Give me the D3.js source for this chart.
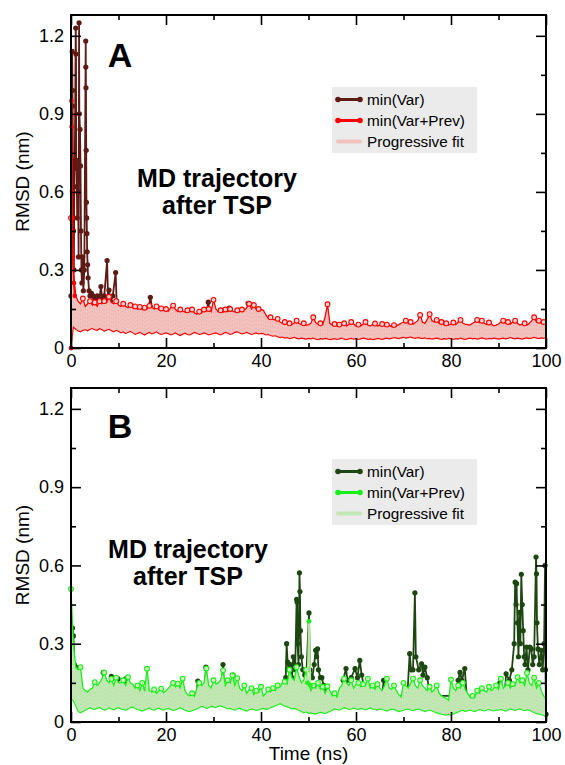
<!DOCTYPE html>
<html><head><meta charset="utf-8">
<script src="https://cdn.jsdelivr.net/npm/d3@7"></script>
<style>body{margin:0;background:#fff;} svg{display:block;font-family:"Liberation Sans",Arial,Helvetica,sans-serif;}</style>
</head><body><svg id="c" width="565" height="765"></svg>
<script>
// ---------- data ----------
const xTicks = [0, 20, 40, 60, 80, 100];
const xMinor = [10, 30, 50, 70, 90];
const yTicks = [0, 0.3, 0.6, 0.9, 1.2];
const yMinor = [0.15, 0.45, 0.75, 1.05];
const legendLabels = ["min(Var)", "min(Var+Prev)", "Progressive fit"];
const panelLetters = ["A", "B"];
const noteLines = ["MD trajectory", "after TSP"];
const timeStep = 0.5; // ns between samples of the envelope arrays (t = 0 .. 100)

// Panel A: upper / lower edge of the min(Var+Prev) + progressive-fit band
const topA = [
 0.5,0.3,0.2,0.18,0.17,0.19,0.16,0.17,0.18,0.165,0.175,0.16,0.18,0.17,0.18,0.175,0.197,0.175,0.17,0.18,0.165,
 0.16,0.17,0.16,0.155,0.165,0.155,0.16,0.15,0.158,0.148,0.155,0.15,0.162,0.158,0.15,0.16,0.148,0.152,0.145,0.15,
 0.142,0.155,0.163,0.148,0.14,0.148,0.142,0.138,0.145,0.14,0.148,0.135,0.13,0.14,0.135,0.148,0.142,0.15,0.14,0.185,
 0.15,0.14,0.145,0.138,0.148,0.14,0.15,0.142,0.138,0.145,0.14,0.148,0.145,0.155,0.17,0.15,0.165,0.148,0.15,0.148,
 0.145,0.128,0.115,0.118,0.11,0.108,0.112,0.1,0.095,0.1,0.092,0.095,0.09,0.097,0.105,0.094,0.09,0.095,0.088,0.09,
 0.095,0.118,0.098,0.092,0.095,0.09,0.12,0.168,0.095,0.088,0.092,0.085,0.09,0.088,0.095,0.085,0.09,0.1,0.092,0.085,
 0.09,0.085,0.092,0.1,0.088,0.085,0.09,0.094,0.085,0.088,0.092,0.085,0.09,0.088,0.082,0.088,0.085,0.09,0.095,0.1,
 0.105,0.095,0.1,0.092,0.098,0.105,0.127,0.1,0.095,0.11,0.13,0.105,0.1,0.108,0.095,0.1,0.09,0.095,0.088,0.092,
 0.098,0.09,0.1,0.108,0.095,0.092,0.09,0.088,0.095,0.1,0.108,0.098,0.105,0.095,0.09,0.098,0.092,0.085,0.088,0.092,
 0.1,0.105,0.095,0.1,0.092,0.1,0.105,0.095,0.088,0.092,0.095,0.088,0.095,0.105,0.118,0.1,0.105,0.095,0.1,0.092
];
const lowA = [
 0.0,0.08,0.072,0.065,0.062,0.068,0.07,0.066,0.072,0.075,0.07,0.068,0.074,0.07,0.065,0.068,0.072,0.066,0.062,0.068,0.064,
 0.058,0.062,0.055,0.06,0.064,0.058,0.052,0.056,0.06,0.055,0.05,0.056,0.06,0.054,0.058,0.062,0.056,0.052,0.055,0.058,
 0.055,0.05,0.054,0.058,0.052,0.048,0.053,0.057,0.052,0.05,0.055,0.06,0.056,0.052,0.054,0.058,0.055,0.05,0.053,0.056,
 0.058,0.054,0.05,0.055,0.06,0.057,0.052,0.055,0.06,0.062,0.058,0.054,0.057,0.06,0.056,0.052,0.055,0.058,0.054,0.056,
 0.055,0.05,0.052,0.048,0.045,0.047,0.043,0.04,0.042,0.038,0.04,0.036,0.038,0.041,0.037,0.035,0.038,0.036,0.034,0.037,
 0.035,0.038,0.034,0.032,0.036,0.034,0.037,0.035,0.032,0.034,0.036,0.033,0.035,0.038,0.034,0.032,0.035,0.037,0.034,0.036,
 0.033,0.035,0.038,0.036,0.033,0.035,0.032,0.034,0.037,0.035,0.033,0.036,0.038,0.035,0.037,0.04,0.038,0.036,0.039,0.041,
 0.038,0.04,0.042,0.039,0.037,0.04,0.038,0.036,0.039,0.035,0.037,0.034,0.036,0.038,0.035,0.033,0.036,0.034,0.037,0.035,
 0.033,0.036,0.034,0.038,0.035,0.033,0.036,0.038,0.035,0.037,0.034,0.036,0.039,0.036,0.034,0.037,0.035,0.038,0.036,0.034,
 0.036,0.038,0.035,0.037,0.04,0.037,0.035,0.038,0.036,0.034,0.037,0.039,0.036,0.038,0.041,0.038,0.036,0.039,0.037,0.04
];
// Panel A: early min(Var+Prev) excursion [time ns, RMSD nm]
const redEarlyA = [[0,0],[0.1,0.95],[0.15,0.85],[0.2,0.6],[0.3,0.5],[0.4,0.35],[0.6,0.25],[0.8,0.2]];
// Panel A: min(Var) [time ns, RMSD nm]
const brownA = [
 [0,0.2],[0.25,1.14],[0.3,0.99],[0.35,0.93],[0.4,0.7],[0.5,0.45],[0.6,0.3],[0.7,0.62],[0.8,0.72],[1.0,1.23],
 [1.05,1.13],[1.1,0.72],[1.2,0.69],[1.3,0.5],[1.4,0.72],[1.5,0.6],[1.6,0.35],[1.65,0.7],[1.7,1.25],[1.75,0.9],
 [1.9,0.84],[2.0,0.7],[2.1,0.45],[2.2,0.3],[2.3,0.25],[2.45,0.35],[2.6,0.22],[2.8,0.3],[3.1,1.18],[3.12,1.08],
 [3.15,1.0],[3.2,0.76],[3.25,0.56],[3.3,0.5],[3.35,0.44],[3.4,0.37],[3.5,0.32],[3.6,0.27],[3.8,0.22],[4.0,0.2],
 [4.3,0.21],[4.6,0.2],[5.0,0.19],[5.5,0.2],[6.0,0.19],[6.3,0.236],[6.6,0.18],[7.0,0.2],[7.6,0.336],[7.8,0.19],
 [8.0,0.223],[8.3,0.18],[8.8,0.2],[9.4,0.29],[9.6,0.18],[10,0.15],[12,0.14],[14,0.14],[16.2,0.14],[16.7,0.195],
 [17.2,0.14],[20,0.13],[24,0.13],[28.5,0.13],[28.9,0.176],[29.3,0.13],[33,0.13],[33.3,0.153],[33.6,0.13],[37,0.14],
 [37.3,0.172],[37.6,0.14],[40,0.13],[42,0.1]
];

// Panel B
const topB = [
 0.51,0.3,0.21,0.2,0.21,0.13,0.12,0.115,0.125,0.13,0.153,0.14,0.15,0.165,0.19,0.16,0.15,0.165,0.14,0.17,0.15,
 0.15,0.16,0.14,0.172,0.15,0.145,0.13,0.14,0.12,0.15,0.118,0.204,0.12,0.115,0.125,0.11,0.12,0.128,0.112,0.12,
 0.13,0.14,0.15,0.135,0.147,0.13,0.166,0.12,0.105,0.1,0.11,0.098,0.13,0.15,0.14,0.15,0.205,0.14,0.13,0.16,
 0.145,0.15,0.16,0.198,0.14,0.16,0.15,0.179,0.14,0.168,0.13,0.12,0.14,0.11,0.125,0.13,0.105,0.12,0.115,0.135,
 0.1,0.11,0.125,0.115,0.13,0.12,0.14,0.135,0.15,0.155,0.145,0.2,0.17,0.16,0.21,0.175,0.15,0.16,0.2,0.15,
 0.12,0.14,0.13,0.15,0.125,0.135,0.11,0.137,0.12,0.1,0.11,0.095,0.13,0.14,0.166,0.15,0.14,0.16,0.13,0.145,
 0.15,0.135,0.145,0.14,0.166,0.13,0.14,0.125,0.145,0.13,0.12,0.14,0.166,0.13,0.125,0.14,0.12,0.105,0.096,0.15,
 0.14,0.13,0.15,0.166,0.14,0.13,0.16,0.14,0.13,0.12,0.135,0.115,0.125,0.14,0.11,0.1,0.095,0.09,0.083,0.162,
 0.13,0.12,0.14,0.13,0.15,0.125,0.11,0.096,0.1,0.095,0.12,0.11,0.13,0.12,0.115,0.135,0.12,0.13,0.14,0.125,
 0.166,0.13,0.14,0.15,0.13,0.145,0.14,0.172,0.15,0.16,0.14,0.188,0.15,0.14,0.17,0.13,0.15,0.12,0.1,0.09
];
const lowB = [
 0.09,0.08,0.06,0.04,0.035,0.04,0.045,0.05,0.055,0.05,0.048,0.052,0.056,0.05,0.045,0.048,0.055,0.05,0.046,0.052,0.055,
 0.05,0.048,0.045,0.05,0.055,0.058,0.052,0.048,0.045,0.042,0.046,0.05,0.054,0.048,0.045,0.05,0.053,0.048,0.045,0.05,
 0.052,0.048,0.044,0.046,0.05,0.055,0.05,0.045,0.042,0.04,0.043,0.047,0.05,0.055,0.06,0.057,0.052,0.055,0.06,0.058,
 0.055,0.06,0.062,0.058,0.055,0.05,0.052,0.048,0.045,0.05,0.053,0.048,0.045,0.042,0.046,0.05,0.048,0.044,0.047,0.05,
 0.052,0.048,0.05,0.055,0.058,0.062,0.065,0.07,0.066,0.06,0.058,0.055,0.05,0.052,0.048,0.045,0.04,0.035,0.038,0.033,
 0.035,0.032,0.03,0.034,0.037,0.035,0.032,0.036,0.04,0.045,0.05,0.048,0.045,0.05,0.055,0.052,0.048,0.05,0.053,0.05,
 0.048,0.052,0.05,0.046,0.05,0.054,0.05,0.048,0.045,0.05,0.048,0.045,0.042,0.046,0.05,0.048,0.044,0.04,0.042,0.045,
 0.048,0.05,0.046,0.043,0.047,0.05,0.048,0.044,0.04,0.043,0.046,0.042,0.038,0.035,0.032,0.03,0.028,0.026,0.03,0.025,
 0.03,0.035,0.038,0.042,0.045,0.04,0.043,0.046,0.042,0.04,0.044,0.048,0.045,0.042,0.045,0.048,0.044,0.042,0.046,0.045,
 0.048,0.045,0.042,0.046,0.05,0.047,0.044,0.048,0.05,0.046,0.043,0.047,0.045,0.04,0.036,0.032,0.03,0.028,0.025,0.02
];
// Panel B: min(Var) [time ns, RMSD nm]
const darkB = [
 [0.3,0.36],[0.5,0.33],[0.7,0.22],[1.0,0.21],[1.5,0.12],
 [6.5,0.1],[6.8,0.19],[7.1,0.1],[8.2,0.1],[8.5,0.175],[8.8,0.1],[9.6,0.1],[9.9,0.165],[10.2,0.1],
 [11.2,0.1],[11.5,0.165],[11.8,0.1],[26.4,0.1],[26.7,0.157],[27,0.1],[28.1,0.1],[28.4,0.21],[28.7,0.1],
 [31.7,0.1],[32,0.22],[32.3,0.1],[33.8,0.1],[34.1,0.18],[34.4,0.1],
 [44.5,0.1],[45.2,0.17],[45.4,0.3],[45.6,0.23],[45.8,0.2],[46.2,0.22],[46.5,0.17],[46.8,0.25],[47.2,0.2],[47.5,0.47],
 [47.6,0.46],[47.7,0.3],[47.9,0.22],[48.1,0.572],[48.2,0.5],[48.3,0.35],[48.5,0.25],[48.8,0.2],[49.2,0.18],[49.6,0.2],
 [50.1,0.418],[50.3,0.2],[50.8,0.17],[51.2,0.22],[51.5,0.275],[51.7,0.25],[51.9,0.28],[52.1,0.2],[52.5,0.17],[52.8,0.17],
 [53.2,0.14],[54,0.1],
 [57.0,0.1],[57.3,0.16],[57.9,0.205],[58.2,0.16],[59,0.17],[59.8,0.205],[60.3,0.17],[60.8,0.236],[61.2,0.18],[62,0.1],
 [65.5,0.1],[65.8,0.16],[66.1,0.1],
 [70.8,0.1],[71.3,0.262],[71.6,0.2],[72,0.2],[72.4,0.495],[72.6,0.25],[73.2,0.2],[73.8,0.223],[74.1,0.18],[74.5,0.21],
 [75,0.17],[75.6,0.1],
 [81.2,0.1],[81.5,0.16],[81.9,0.19],[82.3,0.16],[82.9,0.205],[83.3,0.1],[89.8,0.1],[90.3,0.15],[90.8,0.1],
 [91.3,0.1],[91.6,0.185],[92.3,0.16],[92.8,0.2],[93.3,0.3],[93.5,0.536],
 [93.7,0.45],[93.8,0.53],[94.0,0.38],[94.2,0.25],[94.4,0.42],[94.6,0.3],[94.8,0.566],[95.0,0.45],[95.2,0.35],[95.4,0.25],
 [95.6,0.22],[95.9,0.287],[96.2,0.2],[96.6,0.287],[96.9,0.28],[97.2,0.22],[97.5,0.25],[97.9,0.632],[98.0,0.568],[98.1,0.38],
 [98.3,0.28],[98.6,0.22],[99.0,0.275],[99.3,0.2],[99.6,0.3],[99.8,0.6],[99.9,0.2],[100,0.03]
];
// Panel B: isolated min(Var+Prev) excursion [time ns, RMSD nm]
const greenSpikeB = [[49.8,0.15],[50.1,0.386],[50.4,0.14]];

// ---------- drawing ----------
const svg = d3.select("#c");
const X0 = 71, X1 = 546;
const x = d3.scaleLinear().domain([0, 100]).range([X0, X1]);

const panels = [
  {top: topA, low: lowA, dark: brownA, extra: redEarlyA, letter: panelLetters[0],
   y0: 348, y1: 15, noteX: 217, noteY: 187, letterY: 67, legY: 87,
   cDark: "#5e1a14", cMid: "#ff0000", cFit: "#f2c3be", cDot: "#f7d2ce", extraLine: "#ff0000"},
  {top: topB, low: lowB, dark: darkB, extra: greenSpikeB, letter: panelLetters[1],
   y0: 722, y1: 388, noteX: 188, noteY: 558, letterY: 438, legY: 459,
   cDark: "#1d4710", cMid: "#18f018", cFit: "#c3e6b4", cDot: "#c8f0b8", extraLine: "#b6e8a2"}
];

panels.forEach(p => {
  const y = d3.scaleLinear().domain([0, 1.28]).range([p.y0, p.y1]);
  const g = svg.append("g");
  const tx = (d, i) => x(i * timeStep);

  // min(Var) (underneath)
  g.append("path").datum(p.dark)
    .attr("d", d3.line().x(d => x(d[0])).y(d => y(d[1])))
    .attr("fill", "none").attr("stroke", p.cDark).attr("stroke-width", 1.8);
  g.selectAll(null).data(p.dark).enter().append("circle")
    .attr("cx", d => x(d[0])).attr("cy", d => y(d[1])).attr("r", 2.6)
    .attr("fill", p.cDark);

  // progressive fit band
  g.append("path").datum(p.top)
    .attr("d", d3.area().x(tx).y0((d, i) => y(p.low[i])).y1(d => y(d)))
    .attr("fill", p.cFit);
  g.selectAll(null).data(p.top).enter().append("line")
    .attr("x1", tx).attr("x2", tx)
    .attr("y1", (d, i) => y(p.low[i])).attr("y2", d => y(d))
    .attr("stroke", p.cMid).attr("stroke-opacity", 0.14).attr("stroke-width", 0.8)
    .attr("stroke-dasharray", "1.5,2.5");

  // min(Var+Prev) edges
  g.append("path").datum(p.low)
    .attr("d", d3.line().x(tx).y(d => y(d)))
    .attr("fill", "none").attr("stroke", p.cMid).attr("stroke-width", 1.1);
  g.append("path").datum(p.top)
    .attr("d", d3.line().x(tx).y(d => y(d)))
    .attr("fill", "none").attr("stroke", p.cMid).attr("stroke-width", 1.3);
  const peaks = p.top.map((v, i) => [i, v]).filter(([i, v]) =>
    (i === 0 || v > p.top[i - 1]) && (i === p.top.length - 1 || v >= p.top[i + 1]));
  g.selectAll(null).data(peaks).enter().append("circle")
    .attr("cx", d => x(d[0] * timeStep)).attr("cy", d => y(d[1])).attr("r", 2.4)
    .attr("fill", p.cDot).attr("stroke", p.cMid).attr("stroke-width", 1.1);

  // extra excursion of min(Var+Prev)
  g.append("path").datum(p.extra)
    .attr("d", d3.line().x(d => x(d[0])).y(d => y(d[1])))
    .attr("fill", "none").attr("stroke", p.extraLine).attr("stroke-width", 1.8);
  g.selectAll(null).data(p.extra).enter().append("circle")
    .attr("cx", d => x(d[0])).attr("cy", d => y(d[1])).attr("r", 2.4)
    .attr("fill", p.cMid);

  // axes (ticks inward on all four sides)
  const fmtY = v => v === 0 ? "0" : d3.format(".1f")(v);
  const axG = svg.append("g");
  const styleAxis = sel => { sel.select(".domain").remove(); sel.selectAll("line").attr("stroke", "#000").attr("stroke-width", 1.6); sel.selectAll("text").attr("font-size", 18).attr("fill", "#000").attr("font-family", "Liberation Sans, Arial, sans-serif"); };
  axG.append("g").attr("transform", `translate(0,${p.y0})`)
    .call(d3.axisBottom(x).tickValues(xTicks).tickSize(-10).tickPadding(6).tickFormat(d3.format("d"))).call(styleAxis);
  axG.append("g").attr("transform", `translate(0,${p.y0})`)
    .call(d3.axisBottom(x).tickValues(xMinor).tickSize(-5).tickFormat("")).call(styleAxis);
  axG.append("g").attr("transform", `translate(0,${p.y1})`)
    .call(d3.axisTop(x).tickValues(xTicks).tickSize(-10).tickFormat("")).call(styleAxis);
  axG.append("g").attr("transform", `translate(0,${p.y1})`)
    .call(d3.axisTop(x).tickValues(xMinor).tickSize(-5).tickFormat("")).call(styleAxis);
  axG.append("g").attr("transform", `translate(${X0},0)`)
    .call(d3.axisLeft(y).tickValues(yTicks).tickSize(-10).tickPadding(7).tickFormat(fmtY)).call(styleAxis);
  axG.append("g").attr("transform", `translate(${X0},0)`)
    .call(d3.axisLeft(y).tickValues(yMinor).tickSize(-5).tickFormat("")).call(styleAxis);
  axG.append("g").attr("transform", `translate(${X1},0)`)
    .call(d3.axisRight(y).tickValues(yTicks).tickSize(-10).tickFormat("")).call(styleAxis);
  axG.append("g").attr("transform", `translate(${X1},0)`)
    .call(d3.axisRight(y).tickValues(yMinor).tickSize(-5).tickFormat("")).call(styleAxis);
  svg.append("rect").attr("x", X0).attr("y", p.y1).attr("width", X1 - X0).attr("height", p.y0 - p.y1)
    .attr("fill", "none").attr("stroke", "#000").attr("stroke-width", 2);

  // y label
  svg.append("text").attr("transform", `translate(29,${(p.y0 + p.y1) / 2}) rotate(-90)`)
    .attr("text-anchor", "middle").attr("font-size", 19).text("RMSD (nm)");

  // panel letter and note
  svg.append("text").attr("x", 120).attr("y", p.letterY).attr("text-anchor", "middle")
    .attr("font-size", 34).attr("font-weight", "bold").text(p.letter);
  noteLines.forEach((t, i) => svg.append("text").attr("x", p.noteX).attr("y", p.noteY + i * 26.5)
    .attr("text-anchor", "middle").attr("font-size", 25).attr("font-weight", "bold").text(t));

  // legend
  const lg = svg.append("g");
  lg.append("rect").attr("x", 332).attr("y", p.legY).attr("width", 145).attr("height", 66).attr("fill", "#ebebeb");
  const rowCols = [p.cDark, p.cMid, p.cFit];
  legendLabels.forEach((lab, i) => {
    const ry = p.legY + 12.5 + i * 21;
    lg.append("line").attr("x1", 338).attr("x2", 360).attr("y1", ry).attr("y2", ry)
      .attr("stroke", rowCols[i]).attr("stroke-width", i === 2 ? 4 : 3).attr("stroke-linecap", "round");
    if (i < 2) [338, 360].forEach(cx => lg.append("circle").attr("cx", cx).attr("cy", ry).attr("r", 2.8).attr("fill", rowCols[i]));
    lg.append("text").attr("x", 367).attr("y", ry + 5.5).attr("font-size", 15.3).text(lab);
  });
});

svg.append("text").attr("x", (X0 + X1) / 2).attr("y", 760).attr("text-anchor", "middle")
  .attr("font-size", 19).text("Time (ns)");
</script></body></html>
